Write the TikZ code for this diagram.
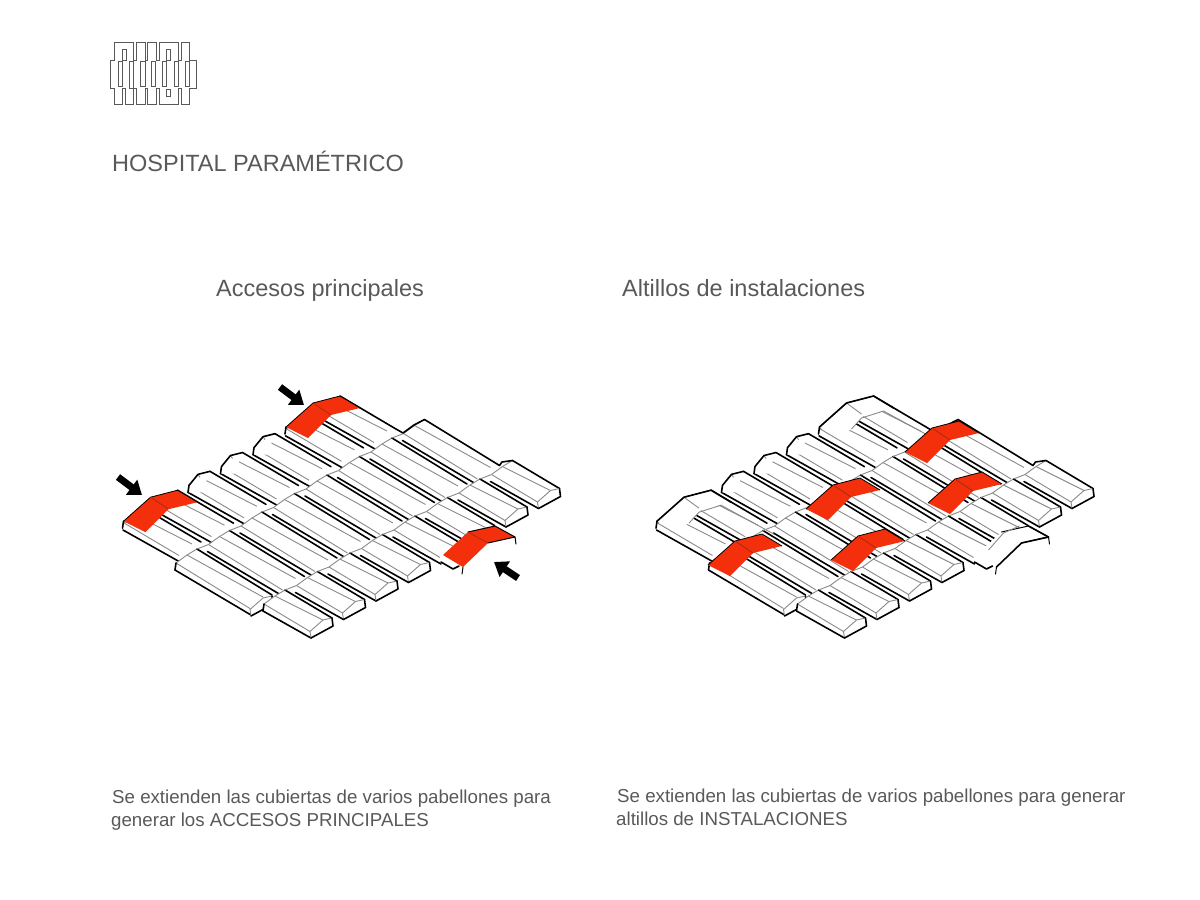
\documentclass[tikz,border=0pt]{standalone}
\usepackage{fontspec}
\setmainfont{Liberation Sans}
\usepackage{xcolor}
\usetikzlibrary{arrows.meta,positioning}
\definecolor{accent}{HTML}{F4300C}
\definecolor{accentdark}{HTML}{A52A12}
\definecolor{neutral}{HTML}{58595B}
\definecolor{roofgray}{HTML}{8A8A8A}
\tikzset{
  roofline/.style={draw=roofgray, line width=0.9pt},
  edgeline/.style={draw=black, line width=1.6pt, line join=round, line cap=round},
  title/.style={anchor=base west, text=neutral, font=\fontsize{23.5}{28}\selectfont, inner sep=0pt},
  caption/.style={anchor=base west, text=neutral, font=\fontsize{18.7}{22}\selectfont, inner sep=0pt},
  entry/.style={draw=black, line width=7pt, -{Triangle[length=13pt,width=18pt]}}
}
\newcommand{\pavilion}[4]{
  \begin{scope}[shift={(#1,#2)}]
    \fill[white] (0,0) -- (#3,#4) -- (#3+1,#4+8) -- (#3-21,#4+20) -- (-22,21) -- (-21,14) -- (-10,6) -- cycle;
    \draw[roofline] (-10,6) -- (#3-9,#4+2);
    \draw[roofline] (-21,14) -- (#3-22,#4+13.5);
    \draw[roofline] (0,0) -- (-10,6) -- (-21,14);
    \draw[edgeline] (0,0) -- (#3,#4);
    \draw[edgeline] (-22,21) -- (#3-21,#4+20);
  \end{scope}
}
\newcommand{\pavhead}[2]{
  \begin{scope}[shift={(#1,#2)}]
    \fill[white] (0,0) -- (-12,3) -- (-21,14) -- (-22,21) -- (-8,21) -- cycle;
    \draw[roofline] (-12,3) -- (-10,6);
    \draw[edgeline] (0,0) -- (-12,3) -- (-21,14) -- (-22,21);
  \end{scope}
}
\newcommand{\pavend}[2]{
  \begin{scope}[shift={(#1,#2)}]
    \fill[white] (0,0) -- (1,8) -- (-21,20) -- (-22,13.5) -- (-9,2) -- cycle;
    \draw[roofline] (0,0) -- (-9,2) -- (-22,13.5) -- (-21,20);
    \draw[edgeline] (0,0) -- (1,8) -- (-21,20);
  \end{scope}
}
\newcommand{\rooflap}[3]{
  \begin{scope}[shift={(#1,#2)}]
    \fill[#3] (-54,31) -- (-27,7) -- (0,0) -- (20,12) -- (-9,19) -- (-32,42) -- cycle;
    \draw[black, line width=0.8pt, line join=round] (-54,31) -- (-27,7) -- (0,0) -- (20,12);
  \end{scope}
}
\newcommand{\redlap}[2]{
  \rooflap{#1}{#2}{accent}
  \draw[accentdark, line width=0.7pt, shift={(#1,#2)}] (-27,7) -- (-9,19);
}
\newcommand{\hospitalplan}{
  \foreach \i in {0,...,6} {
    \pgfmathsetmacro{\sx}{145+32.5*\i}
    \pgfmathsetmacro{\sy}{509-18.83*\i}
    \pavilion{\sx}{\sy}{56}{33}
  }
  \foreach \i in {2,3,4} {
    \pgfmathsetmacro{\sx}{145+32.5*\i}
    \pgfmathsetmacro{\sy}{509-18.83*\i}
    \pavhead{\sx}{\sy}
  }
  \foreach \k in {0,...,7} {
    \pgfmathsetmacro{\sx}{197+32.5*\k}
    \pgfmathsetmacro{\sy}{549-18.5*\k}
    \pavilion{\sx}{\sy}{75}{46}
  }
  \foreach \k in {0,...,6} {
    \pgfmathsetmacro{\sx}{197+32.5*\k}
    \pgfmathsetmacro{\sy}{549-18.5*\k}
    \draw[roofline, shift={(\sx,\sy)}] (0,0) -- (11.5,-4.5);
  }
  \pavend{272}{596}
  \foreach \j in {0,...,7} {
    \pgfmathsetmacro{\sx}{285+32.5*\j}
    \pgfmathsetmacro{\sy}{590-18.5*\j}
    \pavilion{\sx}{\sy}{47}{28}
  }
  \foreach \j in {0,...,6} {
    \pgfmathsetmacro{\sx}{285+32.5*\j}
    \pgfmathsetmacro{\sy}{590-18.5*\j}
    \draw[roofline, shift={(\sx,\sy)}] (0,0) -- (11.5,-4.5);
  }
  \foreach \j in {0,1,2,3,6,7} {
    \pgfmathsetmacro{\sx}{332+32.5*\j}
    \pgfmathsetmacro{\sy}{618-18.5*\j}
    \pavend{\sx}{\sy}
  }
  \draw[edgeline] (396,429) -- (403,433) -- (414,425) -- (424.5,419.5);
  \draw[edgeline] (499.5,465.5) -- (502,462) -- (512.5,460.5);
  \draw[edgeline] (176,563) -- (175,570);
  \draw[edgeline] (264,604) -- (263,611);
}
\newcommand{\entrylap}[3]{
  \begin{scope}[shift={(#1,#2)}]
    \fill[#3] (-52,29) -- (-27,6) -- (0,0) -- (20,11) -- (-7,17) -- (-32,41) -- cycle;
    \draw[edgeline, line width=1pt] (-27,6) -- (0,0) -- (20,11) -- (21,18);
    \draw[edgeline, line width=1pt] (20,11) -- (-7,17);
    \draw[edgeline, line width=1pt] (-32,41) -- (-33,48);
    \draw[edgeline] (-54,36) -- (-42,43) -- (-36,40);
  \end{scope}
}
\begin{document}
\begin{tikzpicture}[x=1pt,y=-1pt]
  \useasboundingbox (0,0) rectangle (1200,900);
  \fill[white] (0,0) rectangle (1200,900);

  \begin{scope}[shift={(100,30)},x=0.3333pt,y=-0.3333pt]
    \draw[neutral, line width=0.9pt] (42,38) -| (100,90) -| (110,38) -| (135,90) -| (143,38) -| (168,90) -| (178,38) -| (235,90) -| (245,38) -| (268,90) -| (290,175) -| (268,222) -| (245,175) -| (235,222) -| (178,175) -| (168,222) -| (143,175) -| (135,222) -| (110,175) -| (100,222) -| (75,175) -| (68,222) -| (42,175) -| (32,90) -| (42,38) -- cycle;
    \foreach \xa/\ya/\xb/\yb in {66/58/78/90, 55/95/68/170, 88/95/100/175, 122/95/135/170, 155/95/167/170,
                                 188/95/200/170, 200/58/212/90, 200/178/212/200, 222/95/235/170, 255/95/268/170} {
      \draw[neutral, line width=0.9pt] (\xa,\ya) rectangle (\xb,\yb);
    }
  \end{scope}

  \node[title] (heading) at (112,171) {HOSPITAL PARAMÉTRICO};
  \node[title] (accesstitle) at (216,296) {Accesos principales};
  \node[title] (loftstitle) at (622,296) {Altillos de instalaciones};
  \node[caption] (accessone) at (112,803) {Se extienden las cubiertas de varios pabellones para};
  \node[caption] (accesstwo) at (111,826) {generar los ACCESOS PRINCIPALES};
  \node[caption] (loftsone) at (617,802) {Se extienden las cubiertas de varios pabellones para generar};
  \node[caption] (loftstwo) at (616,825) {altillos de INSTALACIONES};

  \hospitalplan
  \foreach \x/\y in {177.5/490.2, 340/396} {
    \redlap{\x}{\y}
    \draw[edgeline, shift={(\x,\y)}] (-54,31) -- (-55,38);
  }
  \entrylap{495}{526}{accent}
  \draw[accentdark, line width=0.7pt] (468,532) -- (488,543);

  \foreach \name/\xa/\ya/\xb/\yb in {west/118/477/142/495, north/280/387/304/405, east/518/578/494/562} {
    \coordinate (\name tail) at (\xa,\ya);
    \coordinate (\name tip) at (\xb,\yb);
    \draw[entry] (\name tail) -- (\name tip);
  }

  \begin{scope}[shift={(533.5,0)}]
    \hospitalplan
    \foreach \x/\y in {177.5/490.2, 340/396} {
      \rooflap{\x}{\y}{white}
      \draw[roofline, shift={(\x,\y)}] (-27,7) -- (-12,18);
      \draw[roofline, shift={(\x,\y)}] (-22,33) -- (-12,22) -- (10,15) -- (63,44);
      \draw[edgeline, shift={(\x,\y)}] (-54,31) -- (-27,7) -- (0,0) -- (20,12);
      \draw[edgeline, shift={(\x,\y)}] (-54,31) -- (-55,38);
    }
    \entrylap{495}{526}{white}
    \draw[roofline] (486,526) -- (470,533) -- (455,550);
    \draw[edgeline] (463,567) -- (488,543) -- (515,537);
    \draw[edgeline] (495,526) -- (515,537);
    \foreach \x/\y in {228.5/534, 326.5/478, 351.5/529, 425.5/421, 448.5/472} {
      \redlap{\x}{\y}
    }
  \end{scope}
\end{tikzpicture}
\end{document}
